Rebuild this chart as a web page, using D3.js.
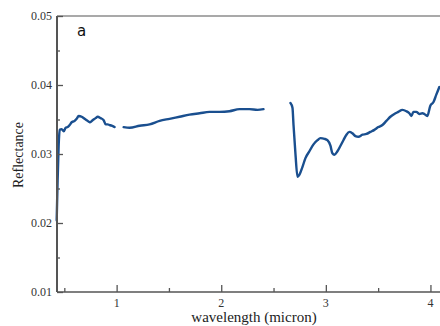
<!DOCTYPE html>
<html><head><meta charset="utf-8">
<script src="https://cdn.jsdelivr.net/npm/d3@7"></script>
<style>body{margin:0;background:#fff;overflow:hidden}</style>
</head><body><svg id="c" width="440" height="326"></svg>
<script>
const seg1W=[0.427,0.436,0.446,0.456,0.475,0.494,0.513,0.532,0.551,0.570,0.599,0.618,0.637,0.666,0.694,0.723,0.742,0.771,0.799,0.819,0.847,0.876,0.895,0.914,0.933,0.952,0.981];
const seg1R=[0.0204,0.0262,0.0313,0.0335,0.0336,0.0333,0.0338,0.0339,0.0342,0.0346,0.0348,0.0351,0.0355,0.0354,0.0351,0.0348,0.0346,0.0349,0.0352,0.0354,0.0352,0.0349,0.0343,0.0343,0.0342,0.0341,0.0339];
const seg2W=[1.067,1.124,1.220,1.315,1.411,1.506,1.602,1.697,1.793,1.888,1.984,2.079,2.175,2.270,2.347,2.404];
const seg2R=[0.0339,0.0338,0.0341,0.0343,0.0348,0.0351,0.0354,0.0357,0.0359,0.0361,0.0361,0.0362,0.0365,0.0365,0.0364,0.0365];
const seg3W=[2.662,2.681,2.691,2.710,2.729,2.748,2.776,2.805,2.843,2.882,2.920,2.948,2.987,3.015,3.044,3.063,3.082,3.111,3.140,3.168,3.197,3.226,3.254,3.283,3.311,3.350,3.388,3.426,3.464,3.502,3.541,3.579,3.617,3.655,3.693,3.732,3.770,3.798,3.818,3.837,3.865,3.894,3.923,3.942,3.970,3.999,4.028,4.056,4.085];
const seg3R=[0.0374,0.0367,0.0342,0.0299,0.0267,0.0270,0.0281,0.0294,0.0304,0.0314,0.0320,0.0323,0.0322,0.0320,0.0312,0.0301,0.0299,0.0304,0.0312,0.0320,0.0328,0.0332,0.0330,0.0326,0.0325,0.0328,0.0329,0.0332,0.0335,0.0339,0.0342,0.0348,0.0354,0.0358,0.0361,0.0364,0.0362,0.0359,0.0355,0.0361,0.0361,0.0358,0.0359,0.0358,0.0355,0.0370,0.0375,0.0386,0.0397];
const xMajor=[1,2,3,4], xMinor=[0.5,1.5,2.5,3.5];
const yMajor=[0.01,0.02,0.03,0.04,0.05], yMinor=[0.015,0.025,0.035,0.045];
const yLabels=["0.01","0.02","0.03","0.04","0.05"];

const svg=d3.select("#c");
const L=57,R=443,T=16,B=292;
const x=d3.scaleLinear().domain([0.43,4.12]).range([L,R]);
const y=d3.scaleLinear().domain([0.01,0.05]).range([B,T]);
const axCol="#555";
const serif="'Liberation Serif','Times New Roman',serif";

// data lines
const line=d3.line().x(d=>x(d[0])).y(d=>y(d[1])).curve(d3.curveMonotoneX);
[[seg1W,seg1R],[seg2W,seg2R],[seg3W,seg3R]].forEach(([w,r])=>{
  svg.append("path").datum(w.map((v,i)=>[v,r[i]])).attr("d",line)
   .attr("fill","none").attr("stroke","#1a4f8f").attr("stroke-width",2.4)
   .attr("stroke-linejoin","round").attr("stroke-linecap","round");
});

// frame
svg.append("line").attr("x1",L).attr("x2",R).attr("y1",T).attr("y2",T).attr("stroke",axCol).attr("stroke-width",1.2);
svg.append("line").attr("x1",L).attr("x2",R).attr("y1",B).attr("y2",B).attr("stroke",axCol).attr("stroke-width",1.6);
svg.append("line").attr("x1",L).attr("x2",L).attr("y1",T).attr("y2",B).attr("stroke",axCol).attr("stroke-width",2);

// y axis ticks (inward)
const yAx=svg.append("g").attr("transform",`translate(${L},0)`)
 .call(d3.axisRight(y).tickValues(yMajor).tickSize(6).tickFormat(""));
yAx.select(".domain").remove();
yAx.selectAll("line").attr("stroke",axCol).attr("stroke-width",1.3);
const yAxm=svg.append("g").attr("transform",`translate(${L},0)`)
 .call(d3.axisRight(y).tickValues(yMinor).tickSize(3).tickFormat(""));
yAxm.select(".domain").remove();
yAxm.selectAll("line").attr("stroke",axCol).attr("stroke-width",1.3);
svg.selectAll(".ylab").data(yMajor).enter().append("text")
 .attr("x",L-5).attr("y",d=>y(d)+4).attr("text-anchor","end")
 .attr("font-family",serif).attr("font-size",12).attr("fill","#333")
 .text((d,i)=>yLabels[i]);

// x axis ticks (inward)
const xAx=svg.append("g").attr("transform",`translate(0,${B})`)
 .call(d3.axisTop(x).tickValues(xMajor).tickSize(7).tickFormat(""));
xAx.select(".domain").remove();
xAx.selectAll("line").attr("stroke",axCol).attr("stroke-width",1.3);
const xAxm=svg.append("g").attr("transform",`translate(0,${B})`)
 .call(d3.axisTop(x).tickValues(xMinor).tickSize(4).tickFormat(""));
xAxm.select(".domain").remove();
xAxm.selectAll("line").attr("stroke",axCol).attr("stroke-width",1.3);
svg.selectAll(".xlab").data(xMajor).enter().append("text")
 .attr("x",d=>x(d)).attr("y",B+15).attr("text-anchor","middle")
 .attr("font-family",serif).attr("font-size",12).attr("fill","#333")
 .text(d=>d);

// axis titles
svg.append("text").attr("x",254).attr("y",321.5).attr("text-anchor","middle")
 .attr("font-family",serif).attr("font-size",15).attr("fill","#222").text("wavelength (micron)");
svg.append("text").attr("transform","translate(23,155) rotate(-90)").attr("text-anchor","middle")
 .attr("font-family",serif).attr("font-size",14).attr("fill","#222").text("Reflectance");

// panel label
svg.append("text").attr("x",77).attr("y",36).attr("font-family","'DejaVu Sans',sans-serif")
 .attr("font-size",15).attr("fill","#111").text("a");
</script></body></html>
